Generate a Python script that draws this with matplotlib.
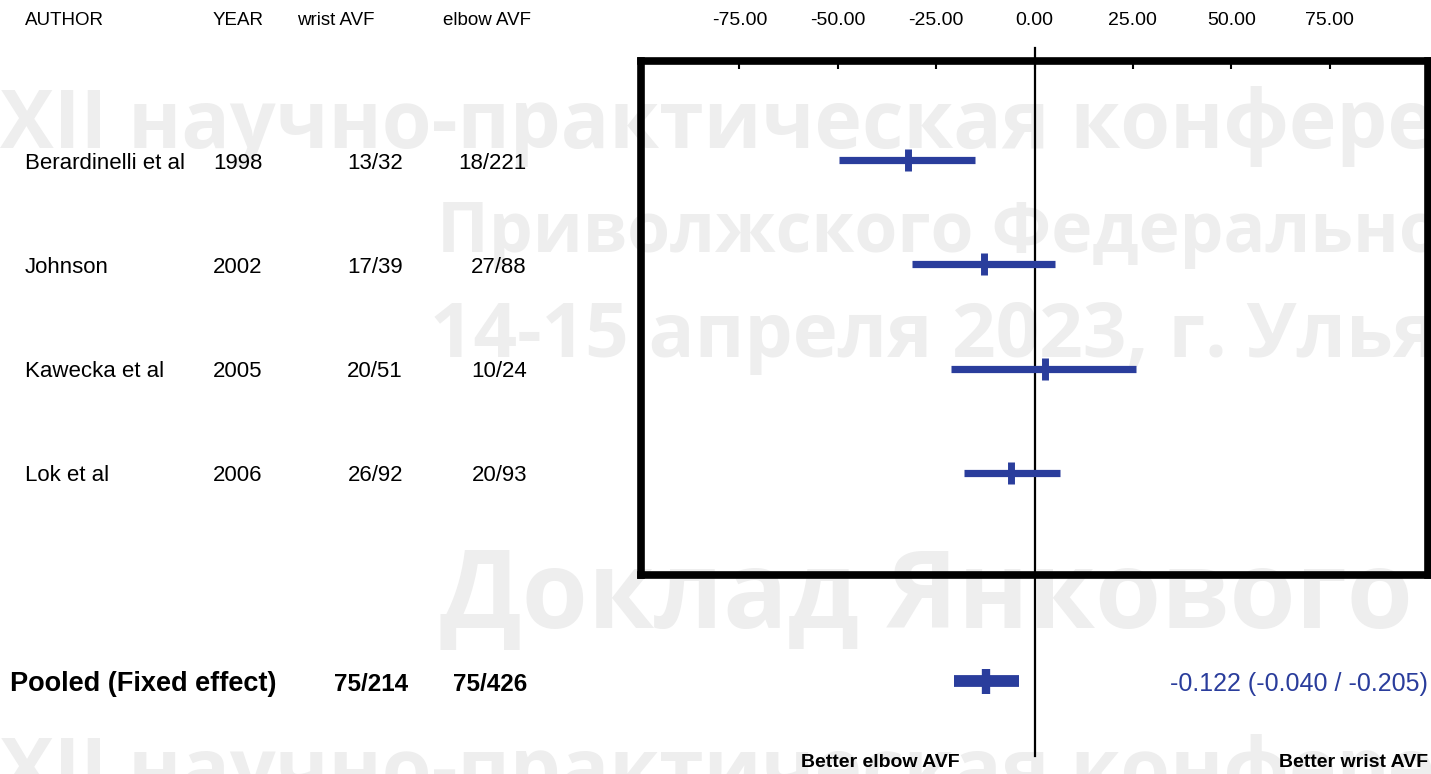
import matplotlib
matplotlib.use("Agg")
import matplotlib.pyplot as plt
from matplotlib.transforms import blended_transform_factory

# ---------------- data ----------------
headers = ["AUTHOR", "YEAR", "wrist AVF", "elbow AVF"]
authors = ["Berardinelli et al", "Johnson", "Kawecka et al", "Lok et al"]
years = ["1998", "2002", "2005", "2006"]
wrist = ["13/32", "17/39", "20/51", "26/92"]
elbow = ["18/221", "27/88", "10/24", "20/93"]
effect = [-32.2, -12.9, 2.6, -5.9]
ci_low = [-49.7, -31.2, -21.2, -17.8]
ci_high = [-15.1, 5.2, 25.8, 6.4]

pooled_label = "Pooled (Fixed effect)"
pooled_wrist = "75/214"
pooled_elbow = "75/426"
pooled_effect = -12.2
pooled_low = -20.5
pooled_high = -4.0
pooled_text = "-0.122 (-0.040 / -0.205)"

xticks = [-75, -50, -25, 0, 25, 50, 75]
left_label = "Better elbow AVF"
right_label = "Better wrist AVF"

watermark = [
    "XII научно-практическая конференция",
    "Приволжского Федерального округа",
    "14-15 апреля 2023, г. Ульяновск",
    "Доклад Янкового",
    "XII научно-практическая конференция",
]

# ---------------- layout ----------------
W, H = 1431, 774
BLUE = "#2a3d9c"
FONT = "Liberation Sans"
plt.rcParams["font.family"] = [FONT, "DejaVu Sans"]

fig = plt.figure(figsize=(W / 100, H / 100), dpi=100)
fig.patch.set_facecolor("white")

# watermark (behind everything)
wm_pos = [(0, 148, 58), (437, 252, 50), (430, 357, 55), (440, 628, 77), (0, 796, 58)]
for (x, y, fs), s in zip(wm_pos, watermark):
    fig.text(x / W, 1 - y / H, s, fontsize=fs, fontweight="bold",
             family=["Open Sans", "DejaVu Sans"], color="#eeeeee",
             va="baseline", ha="left", zorder=-5)

top_px, bot_px = 61, 575
ax = fig.add_axes([641 / W, 1 - bot_px / H, (1428 - 641) / W, (bot_px - top_px) / H])
ax.set_facecolor("none")
ax.set_xlim(-100, 100)
ax.set_ylim(3.98, -0.95)
for sp in ax.spines.values():
    sp.set_linewidth(5.5)
    sp.set_color("black")
ax.set_yticks([])
ax.set_xticks(xticks)
ax.set_xticklabels([f"{t:.2f}" for t in xticks])
ax.tick_params(axis="x", top=True, bottom=False, labeltop=True, labelbottom=False,
               direction="in", length=6, width=1.5, pad=23, labelsize=14)

rows = list(range(len(authors)))
pooled_row = len(authors) + 1

# reference line at zero
ax.plot([0, 0], [-1.07, 5.72], color="black", lw=1.6, clip_on=False, zorder=2)

# study CIs and point estimates
ax.hlines(rows, ci_low, ci_high, color=BLUE, lw=5.2, zorder=3)
ax.plot(effect, rows, ls="none", marker="|", ms=16.5, mew=5, color=BLUE, zorder=4)

# pooled
ax.hlines([pooled_row], [pooled_low], [pooled_high], color=BLUE, lw=8.5,
          zorder=3, clip_on=False)
ax.plot([pooled_effect], [pooled_row], ls="none", marker="|", ms=18, mew=6,
        color=BLUE, zorder=4, clip_on=False)

tr = blended_transform_factory(fig.transFigure, ax.transData)
FS = 16
HFS = 13.5
hdr_y = -1.34
dy = 0.03

ax.text(25 / W, hdr_y, headers[0], transform=tr, fontsize=HFS, va="center", ha="left")
ax.text(213 / W, hdr_y, headers[1], transform=tr, fontsize=HFS, va="center", ha="left")
ax.text(297 / W, hdr_y, headers[2], transform=tr, fontsize=HFS, va="center", ha="left")
ax.text(443 / W, hdr_y, headers[3], transform=tr, fontsize=HFS, va="center", ha="left")

for r, a, yv, w_, e_ in zip(rows, authors, years, wrist, elbow):
    ax.text(25 / W, r + dy, a, transform=tr, fontsize=FS, va="center", ha="left")
    ax.text(213 / W, r + dy, yv, transform=tr, fontsize=FS, va="center", ha="left")
    ax.text(403 / W, r + dy, w_, transform=tr, fontsize=FS, va="center", ha="right")
    ax.text(527 / W, r + dy, e_, transform=tr, fontsize=FS, va="center", ha="right")

ax.text(10 / W, pooled_row + dy, pooled_label, transform=tr, fontsize=19.5,
        fontweight="bold", va="center", ha="left")
ax.text(408 / W, pooled_row + dy, pooled_wrist, transform=tr, fontsize=17.5,
        fontweight="bold", va="center", ha="right")
ax.text(527 / W, pooled_row + dy, pooled_elbow, transform=tr, fontsize=17.5,
        fontweight="bold", va="center", ha="right")
ax.text(1428 / W, pooled_row + dy, pooled_text, transform=tr, fontsize=18,
        color=BLUE, va="center", ha="right")

ax.text(880 / W, 5.78, left_label, transform=tr, fontsize=14, fontweight="bold",
        va="center", ha="center")
ax.text(1428 / W, 5.78, right_label, transform=tr, fontsize=14, fontweight="bold",
        va="center", ha="right")

fig.savefig("out.png", dpi=100, facecolor="white")
